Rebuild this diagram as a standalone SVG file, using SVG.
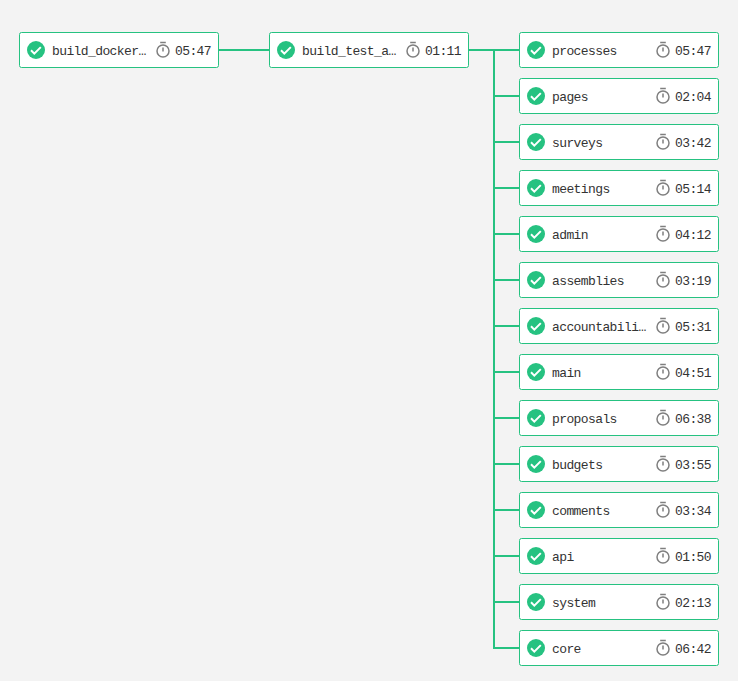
<svg xmlns="http://www.w3.org/2000/svg" width="738" height="681" viewBox="0 0 738 681">
<style>
.box{fill:#fff;stroke:#26c281;stroke-width:1;}
.t{font-family:"Liberation Mono","DejaVu Sans Mono",monospace;font-size:13px;letter-spacing:-0.6px;fill:#333;}
.c{fill:none;stroke:#26c281;stroke-width:2;}
.tm{fill:none;stroke:#7f7f7f;stroke-width:1.5;}
</style>
<defs>
<g id="check"><circle cx="0" cy="0" r="9" fill="#26c281"/><path d="M-5 0.3L-1.7 3.6L4.8 -2.9" fill="none" stroke="#fff" stroke-width="2"/></g>
<g id="timer"><circle cx="0" cy="1" r="6" class="tm"/><path d="M-2.8 -7.5H2.8M0 -2.5V1.5" class="tm"/></g>
</defs>
<rect width="738" height="681" fill="#f3f3f3"/>
<g id="connectors">
<path class="c" d="M219 50H269M469 50H519M494 50V648H519M494 96H519M494 142H519M494 188H519M494 234H519M494 280H519M494 326H519M494 372H519M494 418H519M494 464H519M494 510H519M494 556H519M494 602H519"/>
</g>
<g id="n-build_docker"><rect class="box" x="19.5" y="32.500" width="199" height="35" rx="2"/><use href="#check" x="36" y="50"/><text class="t" x="52" y="55">build_docker…</text><use href="#timer" x="163" y="50"/><text class="t" x="175" y="55">05:47</text></g>
<g id="n-build_test"><rect class="box" x="269.5" y="32.500" width="199" height="35" rx="2"/><use href="#check" x="286" y="50"/><text class="t" x="302" y="55">build_test_a…</text><use href="#timer" x="413" y="50"/><text class="t" x="425" y="55">01:11</text></g>
<g id="n-processes"><rect class="box" x="519.500" y="32.500" width="199" height="35" rx="2"/><use href="#check" x="536" y="50"/><text class="t" x="552" y="55">processes</text><use href="#timer" x="663" y="50"/><text class="t" x="675" y="55">05:47</text></g>
<g id="n-pages"><rect class="box" x="519.500" y="78.500" width="199" height="35" rx="2"/><use href="#check" x="536" y="96"/><text class="t" x="552" y="101">pages</text><use href="#timer" x="663" y="96"/><text class="t" x="675" y="101">02:04</text></g>
<g id="n-surveys"><rect class="box" x="519.500" y="124.500" width="199" height="35" rx="2"/><use href="#check" x="536" y="142"/><text class="t" x="552" y="147">surveys</text><use href="#timer" x="663" y="142"/><text class="t" x="675" y="147">03:42</text></g>
<g id="n-meetings"><rect class="box" x="519.500" y="170.500" width="199" height="35" rx="2"/><use href="#check" x="536" y="188"/><text class="t" x="552" y="193">meetings</text><use href="#timer" x="663" y="188"/><text class="t" x="675" y="193">05:14</text></g>
<g id="n-admin"><rect class="box" x="519.500" y="216.500" width="199" height="35" rx="2"/><use href="#check" x="536" y="234"/><text class="t" x="552" y="239">admin</text><use href="#timer" x="663" y="234"/><text class="t" x="675" y="239">04:12</text></g>
<g id="n-assemblies"><rect class="box" x="519.500" y="262.500" width="199" height="35" rx="2"/><use href="#check" x="536" y="280"/><text class="t" x="552" y="285">assemblies</text><use href="#timer" x="663" y="280"/><text class="t" x="675" y="285">03:19</text></g>
<g id="n-accountability"><rect class="box" x="519.500" y="308.500" width="199" height="35" rx="2"/><use href="#check" x="536" y="326"/><text class="t" x="552" y="331">accountabili…</text><use href="#timer" x="663" y="326"/><text class="t" x="675" y="331">05:31</text></g>
<g id="n-main"><rect class="box" x="519.500" y="354.500" width="199" height="35" rx="2"/><use href="#check" x="536" y="372"/><text class="t" x="552" y="377">main</text><use href="#timer" x="663" y="372"/><text class="t" x="675" y="377">04:51</text></g>
<g id="n-proposals"><rect class="box" x="519.500" y="400.500" width="199" height="35" rx="2"/><use href="#check" x="536" y="418"/><text class="t" x="552" y="423">proposals</text><use href="#timer" x="663" y="418"/><text class="t" x="675" y="423">06:38</text></g>
<g id="n-budgets"><rect class="box" x="519.500" y="446.500" width="199" height="35" rx="2"/><use href="#check" x="536" y="464"/><text class="t" x="552" y="469">budgets</text><use href="#timer" x="663" y="464"/><text class="t" x="675" y="469">03:55</text></g>
<g id="n-comments"><rect class="box" x="519.500" y="492.500" width="199" height="35" rx="2"/><use href="#check" x="536" y="510"/><text class="t" x="552" y="515">comments</text><use href="#timer" x="663" y="510"/><text class="t" x="675" y="515">03:34</text></g>
<g id="n-api"><rect class="box" x="519.500" y="538.500" width="199" height="35" rx="2"/><use href="#check" x="536" y="556"/><text class="t" x="552" y="561">api</text><use href="#timer" x="663" y="556"/><text class="t" x="675" y="561">01:50</text></g>
<g id="n-system"><rect class="box" x="519.500" y="584.500" width="199" height="35" rx="2"/><use href="#check" x="536" y="602"/><text class="t" x="552" y="607">system</text><use href="#timer" x="663" y="602"/><text class="t" x="675" y="607">02:13</text></g>
<g id="n-core"><rect class="box" x="519.500" y="630.500" width="199" height="35" rx="2"/><use href="#check" x="536" y="648"/><text class="t" x="552" y="653">core</text><use href="#timer" x="663" y="648"/><text class="t" x="675" y="653">06:42</text></g>
</svg>
